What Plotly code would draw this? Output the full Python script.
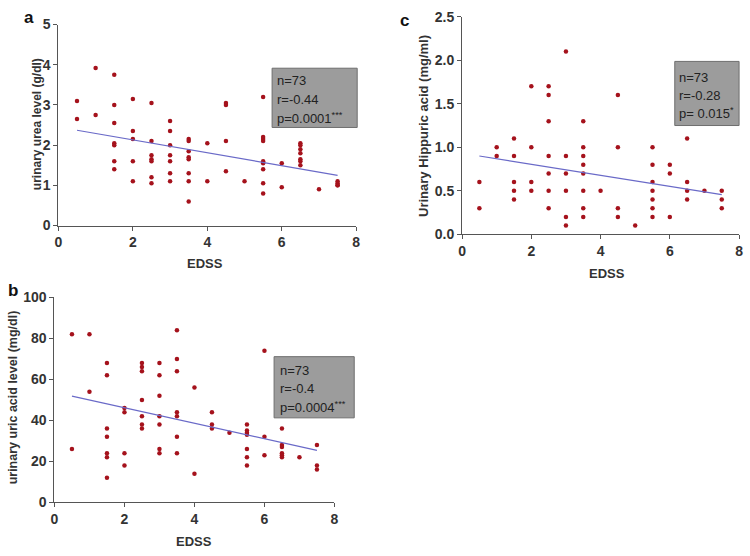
import plotly.graph_objects as go

# ---------------- data ----------------
# Panel a: urinary urea level (g/dl) vs EDSS
a_edss = [0.5, 0.5, 1, 1,
          1.5, 1.5, 1.5, 1.5, 1.5, 1.5, 1.5,
          2, 2, 2, 2, 2,
          2.5, 2.5, 2.5, 2.5, 2.5, 2.5, 2.5,
          3, 3, 3, 3, 3, 3, 3,
          3.5, 3.5, 3.5, 3.5, 3.5, 3.5, 3.5, 3.5,
          4, 4,
          4.5, 4.5, 4.5, 4.5,
          5,
          5.5, 5.5, 5.5, 5.5, 5.5, 5.5, 5.5, 5.5, 5.5,
          6, 6,
          6.5, 6.5, 6.5, 6.5, 6.5, 6.5, 6.5,
          7,
          7.5, 7.5, 7.5, 7.5]
a_urea = [3.1, 2.65, 3.92, 2.75,
          3.75, 3.0, 2.55, 2.05, 2.0, 1.6, 1.4,
          3.15, 2.35, 2.15, 1.6, 1.1,
          3.05, 2.1, 1.75, 1.65, 1.6, 1.2, 1.05,
          2.6, 2.35, 2.0, 1.75, 1.6, 1.3, 1.1,
          2.15, 2.1, 1.85, 1.7, 1.65, 1.3, 1.1, 0.6,
          2.05, 1.1,
          3.05, 3.0, 2.1, 1.35,
          1.1,
          3.2, 2.2, 2.15, 2.1, 1.6, 1.55, 1.4, 1.05, 0.8,
          1.55, 0.95,
          2.05, 2.0, 1.9, 1.8, 1.65, 1.6, 1.5,
          0.9,
          1.1, 1.05, 1.0, 1.0]
a_fit_x = [0.5, 7.5]
a_fit_y = [2.37, 1.25]
a_stats = ["n=73", "r=-0.44", "p=0.0001<sup>***</sup>"]

# Panel b: urinary uric acid level (mg/dl) vs EDSS
b_edss = [0.5, 0.5, 1, 1,
          1.5, 1.5, 1.5, 1.5, 1.5, 1.5, 1.5,
          2, 2, 2, 2,
          2.5, 2.5, 2.5, 2.5, 2.5, 2.5, 2.5,
          3, 3, 3, 3, 3, 3, 3,
          3.5, 3.5, 3.5, 3.5, 3.5, 3.5, 3.5,
          4, 4,
          4.5, 4.5, 4.5,
          5,
          5.5, 5.5, 5.5, 5.5, 5.5, 5.5, 5.5,
          6, 6, 6,
          6.5, 6.5, 6.5, 6.5, 6.5, 6.5,
          7,
          7.5, 7.5, 7.5]
b_uric = [82, 26, 82, 54,
          68, 62, 36, 32, 24, 22, 12,
          46, 44, 24, 18,
          68, 66, 64, 50, 42, 38, 36,
          68, 62, 52, 42, 38, 26, 24,
          84, 70, 64, 44, 42, 32, 24,
          56, 14,
          44, 38, 36,
          34,
          38, 35, 34, 33, 26, 22, 18,
          74, 32, 23,
          36, 28, 27, 24, 23, 22,
          22,
          28, 18, 16]
b_fit_x = [0.5, 7.5]
b_fit_y = [51.8, 25.4]
b_stats = ["n=73", "r=-0.4", "p=0.0004<sup>***</sup>"]

# Panel c: urinary hippuric acid (mg/ml) vs EDSS
c_edss = [0.5, 0.5, 1, 1,
          1.5, 1.5, 1.5, 1.5, 1.5,
          2, 2, 2, 2,
          2.5, 2.5, 2.5, 2.5, 2.5, 2.5, 2.5,
          3, 3, 3, 3, 3, 3,
          3.5, 3.5, 3.5, 3.5, 3.5, 3.5, 3.5, 3.5,
          4,
          4.5, 4.5, 4.5, 4.5,
          5,
          5.5, 5.5, 5.5, 5.5, 5.5, 5.5, 5.5,
          6, 6, 6,
          6.5, 6.5, 6.5, 6.5,
          7,
          7.5, 7.5, 7.5]
c_hipp = [0.6, 0.3, 1.0, 0.9,
          1.1, 0.9, 0.6, 0.5, 0.4,
          1.7, 1.0, 0.6, 0.5,
          1.7, 1.6, 1.3, 0.9, 0.7, 0.5, 0.3,
          2.1, 0.9, 0.7, 0.5, 0.2, 0.1,
          1.3, 1.0, 0.9, 0.8, 0.7, 0.5, 0.3, 0.2,
          0.5,
          1.6, 1.0, 0.3, 0.2,
          0.1,
          1.0, 0.8, 0.6, 0.5, 0.4, 0.3, 0.2,
          0.8, 0.7, 0.2,
          1.1, 0.6, 0.5, 0.4,
          0.5,
          0.5, 0.4, 0.3]
c_fit_x = [0.5, 7.5]
c_fit_y = [0.9, 0.455]
c_stats = ["n=73", "r=-0.28", "p= 0.015<sup>*</sup>"]

x_title = "EDSS"
y_titles = ["urinary urea level (g/dl)",
            "urinary uric acid level (mg/dl)",
            "Urinary Hippuric acid (mg/ml)"]
panel_labels = ["a", "b", "c"]

# ---------------- figure ----------------
W, H = 750, 556
def px(x):
    return x / W
def py(y):
    return 1 - y / H

MARK = "#a5121c"
LINE = "#6a6ac8"
AX = "#555555"
TICKFONT = dict(family="Liberation Sans, Arial", size=14, color="#333333", weight="bold")
TITLEFONT = dict(family="Liberation Sans, Arial", size=13, color="#333333", weight="bold")
STATFONT = dict(family="Liberation Sans, Arial", size=13, color="#222222")

fig = go.Figure()

panels = [
    (a_edss, a_urea, a_fit_x, a_fit_y, "x", "y", (55, 356), (17, 224), [0, 5], 1, None),
    (b_edss, b_uric, b_fit_x, b_fit_y, "x2", "y2", (51, 334), (298, 509), [0, 100], 20, None),
    (c_edss, c_hipp, c_fit_x, c_fit_y, "x3", "y3", (463, 743), (9, 233), [0, 2.5], 0.5, ".1f"),
]

for i, (xs, ys, fx, fy, xa, ya, xd, yd, yr, dt, fmt) in enumerate(panels):
    fig.add_trace(go.Scatter(x=xs, y=ys, mode="markers", xaxis=xa, yaxis=ya,
                             marker=dict(color=MARK, size=4.5, symbol="circle"),
                             showlegend=False, cliponaxis=False))
    fig.add_trace(go.Scatter(x=fx, y=fy, mode="lines", xaxis=xa, yaxis=ya,
                             line=dict(color=LINE, width=1.2), showlegend=False))
    sfx = "" if i == 0 else str(i + 1)
    fig.layout["xaxis" + sfx] = dict(
        domain=[px(xd[0]), px(xd[1])], anchor=ya, range=[0, 8], dtick=2,
        showline=True, linecolor=AX, linewidth=1, ticks="outside", ticklen=4,
        tickcolor=AX, showgrid=False, zeroline=False, tickfont=TICKFONT,
        ticklabeloverflow="allow")
    yax = dict(
        domain=[py(yd[1]), py(yd[0])], anchor=xa, range=yr, dtick=dt,
        showline=True, linecolor=AX, linewidth=1, ticks="outside", ticklen=4,
        tickcolor=AX, showgrid=False, zeroline=False, tickfont=TICKFONT,
        ticklabeloverflow="allow")
    if fmt:
        yax["tickformat"] = fmt
    fig.layout["yaxis" + sfx] = yax

# axis titles
xt_pos = [(203, 263), (192, 549), (610, 273)]
yt_pos = [(33, 120), (10, 401), (424, 121)]
yt_size = [12, 12.5, 13]
for i in range(3):
    fig.add_annotation(x=px(xt_pos[i][0]), y=py(xt_pos[i][1]), xref="paper", yref="paper",
                       text=x_title, showarrow=False, font=TITLEFONT,
                       xanchor="center", yanchor="middle")
    fig.add_annotation(x=px(yt_pos[i][0]), y=py(yt_pos[i][1]), xref="paper", yref="paper",
                       text=y_titles[i], showarrow=False, textangle=-90,
                       font=dict(TITLEFONT, size=yt_size[i]),
                       xanchor="center", yanchor="middle")

# panel labels
lab_pos = [(25, 10), (9, 291), (405, 13)]
for i in range(3):
    fig.add_annotation(x=px(lab_pos[i][0]), y=py(lab_pos[i][1]), xref="paper", yref="paper",
                       text="<b>%s</b>" % panel_labels[i], showarrow=False,
                       font=dict(family="Liberation Sans, Arial", size=17, color="#111111"),
                       xanchor="center", yanchor="middle")

# stat boxes
boxes = [((271, 62, 357, 123), 274, [75, 94, 113], a_stats),
         ((273, 359, 354, 422), 277, [373, 392, 411], b_stats),
         ((678, 55, 743, 121), 680, [72, 90, 108], c_stats)]
for (x0, y0, x1, y1), tx, tys, lines in boxes:
    fig.add_shape(type="rect", xref="paper", yref="paper",
                  x0=px(x0), x1=px(x1), y0=py(y1), y1=py(y0),
                  fillcolor="#9c9c9c", line=dict(color="#6e6e6e", width=1))
    for ty, t in zip(tys, lines):
        fig.add_annotation(x=px(tx), y=py(ty), xref="paper", yref="paper", text=t,
                           showarrow=False, font=STATFONT, xanchor="left", yanchor="middle")

fig.update_layout(width=W, height=H, margin=dict(l=0, r=0, t=0, b=0),
                  paper_bgcolor="white", plot_bgcolor="white")

fig.write_html("out.html", config={"displayModeBar": False},
               post_script="document.body.style.margin='0';document.body.style.overflow='hidden';")
